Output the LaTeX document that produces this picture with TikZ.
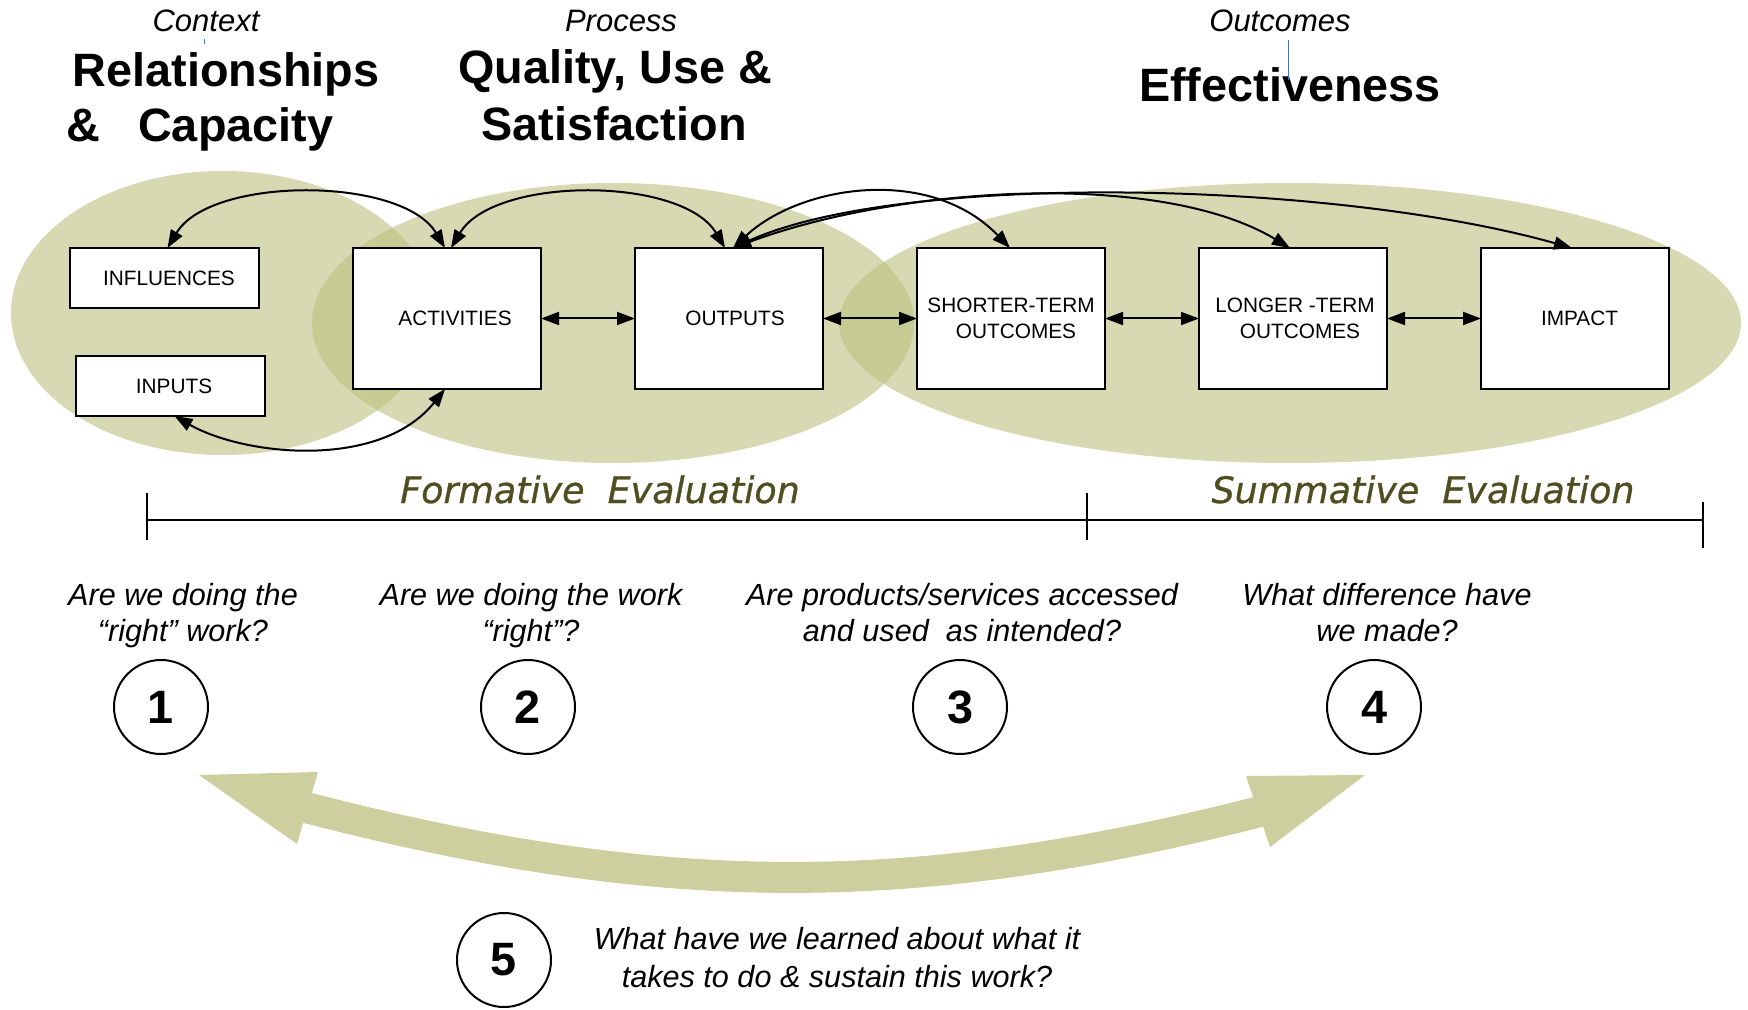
\documentclass[tikz,border=0pt]{standalone}
\usepackage{fontspec}
\setmainfont{Liberation Sans}
\newfontfamily\verd{DejaVu Sans}[FakeBold=0.8]
\usetikzlibrary{arrows.meta}
\definecolor{ellc}{RGB}{188,192,127}
\definecolor{bigc}{RGB}{205,207,158}
\definecolor{evalc}{RGB}{78,78,32}
\definecolor{bluel}{RGB}{70,114,196}
\newcommand{\twol}[2]{\begin{tabular}[t]{@{}c@{}}#1\\#2\end{tabular}}
\begin{document}
\begin{tikzpicture}[x=0.5pt,y=-0.5pt,
  >={Triangle[length=9pt,width=6.5pt]},
  ttl/.style={font=\bfseries\fontsize{23.4}{28}\selectfont, anchor=base, inner sep=0pt},
  subttl/.style={font=\itshape\fontsize{15.5}{18}\selectfont, anchor=base, inner sep=0pt},
  bigbox/.style={draw, line width=1pt, fill=white, minimum width=94pt, minimum height=70.5pt,
    inner sep=0pt, outer sep=0pt, align=center, font=\fontsize{10.4}{13}\selectfont},
  smallbox/.style={bigbox, minimum width=94.5pt, minimum height=30pt},
  link/.style={<->, line width=1pt},
  ques/.style={font=\itshape\fontsize{15.3}{18}\selectfont, anchor=base, inner sep=0pt},
  numc/.style={circle, draw, line width=1pt, minimum size=47pt, inner sep=0pt,
    font=\bfseries\fontsize{23.4}{28}\selectfont},
  evall/.style={font=\verd\itshape\fontsize{18.2}{22}\selectfont, text=evalc, anchor=base, inner sep=0pt},
  ell/.style={fill=ellc, fill opacity=0.6},
  bigarrow/.style={fill=bigc},
  tline/.style={line width=0.9pt},
  ttick/.style={line width=0.6pt},
  bluemark/.style={draw=bluel, line width=0.5pt}
]
\fill[white] (0,0) rectangle (1748,1010);
\useasboundingbox (0,0) rectangle (1748,1010);

% ellipses
\fill[ell] (223,313) ellipse [x radius=212, y radius=142];
\fill[ell] (613,323) ellipse [x radius=301, y radius=140];
\fill[ell] (1290,323) ellipse [x radius=451, y radius=140];

% titles
\node[subttl] (ctx) at (206,32) {Context};
\node[subttl] (prc) at (621,32) {Process};
\node[subttl] (otc) at (1280,32) {Outcomes};
\node[ttl] (rel) at (226,87) {Relationships};
\node[ttl, anchor=base west] (cap) at (66,142) {\&\hspace{12.5pt} Capacity};
\node[ttl] (qua) at (615,84) {Quality, Use \&};
\node[ttl] (sat) at (614,141) {Satisfaction};
\node[ttl] (eff) at (1290,102) {Effectiveness};
\draw[bluemark] (204,39) -- (204,44);
\draw[bluemark] (1288,40) -- (1288,80);

% boxes
\node[smallbox] (infl) at (164.5,278) {\hspace*{4.5pt}INFLUENCES};
\node[smallbox] (inp) at (170.5,386) {\hspace*{3.5pt}INPUTS};
\node[bigbox] (act) at (447,318.5) {\hspace*{8pt}ACTIVITIES};
\node[bigbox] (out) at (729,318.5) {\hspace*{6pt}OUTPUTS};
\node[bigbox] (sho) at (1011,318.5) {SHORTER-TERM\\\hspace*{5pt}OUTCOMES};
\node[bigbox] (lon) at (1293,318.5) {\hspace*{2pt}LONGER -TERM\\\hspace*{7pt}OUTCOMES};
\node[bigbox] (imp) at (1575,318.5) {\hspace*{4.5pt}IMPACT};

% straight links
\draw[link] (act.east) -- (out.west);
\draw[link] (out.east) -- (sho.west);
\draw[link] (sho.east) -- (lon.west);
\draw[link] (lon.east) -- (imp.west);

% curved links
\draw[link] ([xshift=1.5pt]infl.north) .. controls +(43,-72) and +(-43,-72) .. ([xshift=-1pt]act.north);
\draw[link] ([xshift=2pt]act.north) .. controls +(43,-72) and +(-43,-72) .. ([xshift=-2pt]out.north);
\draw[link] ([xshift=2pt]inp.south) .. controls +(70,40) and +(-65,81) .. ([xshift=-1pt]act.south);
\draw[link] ([xshift=2pt]out.north) .. controls +(67,-63) and +(-80,-83) .. ([xshift=-0.5pt]sho.north);
\draw[link] ([xshift=2pt]out.north) .. controls +(167,-62) and +(-130,-78) .. ([xshift=-1.5pt]lon.north);
\draw[link] ([xshift=2pt]out.north) .. controls +(167,-76) and +(-242,-68) .. ([xshift=-1.5pt]imp.north);

% evaluation timeline
\node[evall] (form) at (600,503) {Formative~~Evaluation};
\node[evall] (summ) at (1423,503) {Summative~~Evaluation};
\coordinate (tl0) at (147,520);
\coordinate (tl1) at (1087,520);
\coordinate (tl2) at (1703,520);
\draw[tline] (tl0) -- (tl2);
\draw[ttick] ([yshift=13.5pt]tl0) -- ([yshift=-10pt]tl0);
\draw[ttick] ([yshift=13.5pt]tl1) -- ([yshift=-10pt]tl1);
\draw[ttick] ([yshift=9pt]tl2) -- ([yshift=-14pt]tl2);

% questions
\node[ques] (q1) at (183,605) {\twol{Are we doing the}{“right” work?}};
\node[ques] (q2) at (531,605) {\twol{Are we doing the work}{“right”?}};
\node[ques] (q3) at (962,605) {\twol{Are products/services accessed}{and used~~as intended?}};
\node[ques] (q4) at (1387,605) {\twol{What difference have}{we made?}};
\node[ques, font=\itshape\fontsize{15.3}{19}\selectfont] (q5) at (837,949) {\twol{What have we learned about what it}{takes to do \& sustain this work?}};

% numbered circles
\node[numc] (c1) at (161,707) {1};
\node[numc] (c2) at (528,707) {2};
\node[numc] (c3) at (960,707) {3};
\node[numc] (c4) at (1374,707) {4};
\node[numc] (c5) at (504,960) {5};

% big curved double arrow
\draw[draw=bigc, line width=15.5pt] (300,806) .. controls (658,899) and (907,902) .. (1266,810);
\fill[bigarrow] (199,775) -- (318,772) -- (297,844) -- cycle;
\fill[bigarrow] (1365,775) -- (1246,776) -- (1270,847) -- cycle;
\end{tikzpicture}
\end{document}
